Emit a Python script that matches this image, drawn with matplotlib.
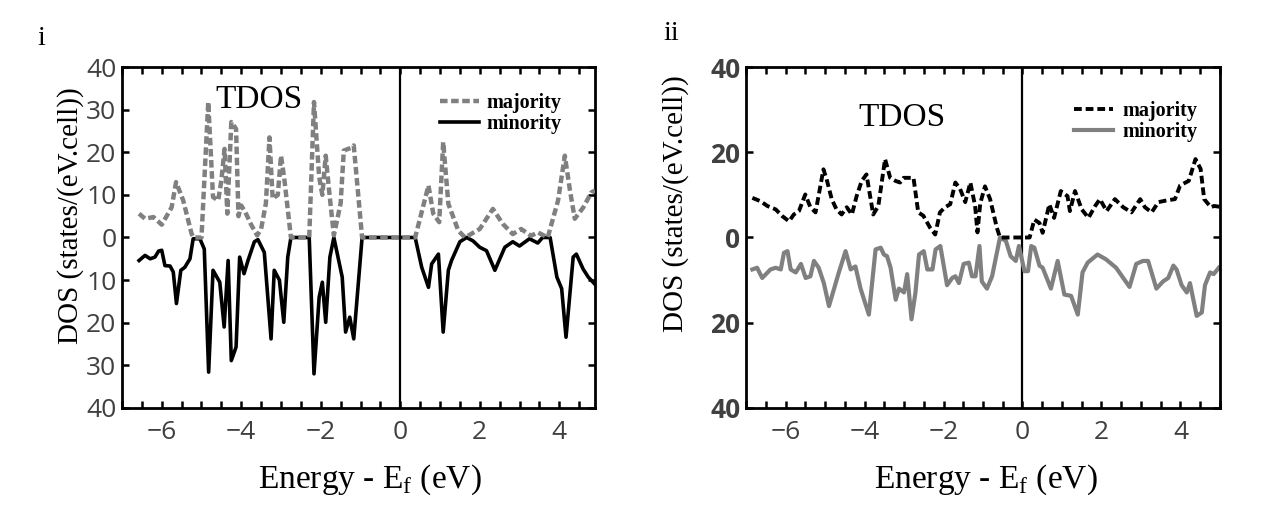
"""Total density of states, majority/minority spin, for two structures."""

import matplotlib
matplotlib.use("Agg")
import matplotlib.pyplot as plt
from matplotlib.ticker import FuncFormatter, MultipleLocator

SERIF = "Liberation Serif"
SANS = ["Open Sans", "DejaVu Sans"]
GRAY = "#808080"
TICK_INK = "#404040"

plt.rcParams["mathtext.fontset"] = "custom"
plt.rcParams["mathtext.rm"] = SERIF

# panel i
left_maj_e = [-6.57, -6.42, -6.21, -6.0, -5.75, -5.64, -5.46, -5.25, -5.2, -5.0, -4.83, -4.71,
              -4.58, -4.5, -4.42, -4.35, -4.25, -4.13, -4.07, -4.0, -3.9, -3.75, -3.6, -3.5,
              -3.38, -3.29, -3.21, -3.08, -3.0, -2.92, -2.75, -2.29, -2.17, -2.04, -1.96,
              -1.875, -1.79, -1.67, -1.5, -1.42, -1.25, -1.17, -0.96, 0.375, 0.71, 0.83, 0.98,
              1.08, 1.21, 1.46, 1.63, 2.0, 2.33, 2.58, 2.83, 3.04, 3.29, 3.46, 3.71, 3.97,
              4.14, 4.27, 4.39, 4.6, 4.81, 4.9]
left_maj_v = [5.6, 4.4, 4.8, 3.0, 7.1, 13.0, 8.7, 0.9, 0.0, 0.0, 31.8, 9.5,
              8.7, 13.4, 20.8, 5.6, 27.1, 25.5, 5.0, 7.5, 6.0, 3.0, 0.5, 2.0,
              8.0, 23.5, 9.1, 10.0, 19.2, 14.0, 0.0, 0.0, 31.8, 14.2, 10.0,
              19.2, 11.0, 0.5, 8.0, 20.4, 21.0, 21.6, 0.0, 0.0, 12.2, 5.6, 3.6,
              22.4, 7.9, 1.6, 0.0, 2.0, 6.7, 3.2, 0.8, 2.0, 0.4, 1.2, 0.0, 8.7,
              19.2, 11.0, 4.4, 7.0, 10.6, 11.0]
left_min_e = [-6.57, -6.42, -6.29, -6.17, -6.08, -6.0, -5.92, -5.79, -5.71, -5.63, -5.52, -5.42,
              -5.29, -5.21, -5.04, -4.93, -4.82, -4.71, -4.54, -4.43, -4.33, -4.25, -4.13,
              -4.04, -3.93, -3.83, -3.67, -3.58, -3.42, -3.25, -3.17, -3.04, -2.93, -2.83,
              -2.75, -2.29, -2.17, -2.04, -1.96, -1.875, -1.77, -1.67, -1.46, -1.375, -1.27,
              -1.17, -0.96, 0.375, 0.54, 0.71, 0.79, 0.96, 1.08, 1.21, 1.29, 1.5, 1.67, 1.83,
              2.0, 2.17, 2.38, 2.63, 2.83, 3.0, 3.25, 3.46, 3.58, 3.77, 3.94, 4.06, 4.17,
              4.35, 4.43, 4.6, 4.73, 4.9]
left_min_v = [5.4, 4.2, 5.0, 4.6, 3.2, 3.0, 6.6, 6.7, 8.1, 15.5, 7.7, 7.0,
              5.0, 0.3, 0.3, 2.7, 31.6, 7.7, 10.5, 21.0, 5.4, 28.9, 25.7,
              4.6, 8.5, 5.4, 1.0, 0.5, 3.5, 23.8, 7.7, 10.0, 19.9, 4.6,
              0.0, 0.0, 32.0, 14.0, 10.5, 19.9, 4.6, 0.0, 9.3, 22.2, 18.7,
              23.8, 0.0, 0.0, 7.0, 11.7, 6.2, 3.9, 22.2, 7.7, 5.4, 1.0, 0.0, 0.8,
              2.3, 3.1, 7.7, 2.3, 1.0, 2.0, 0.3, 1.3, 0.0, 0.0, 9.3, 12.0, 23.4,
              4.6, 3.9, 7.4, 9.3, 11.0]

# panel ii
right_maj_e = [-6.84, -6.63, -6.46, -6.25, -6.08, -5.91, -5.79, -5.66, -5.5, -5.37, -5.24, -5.04,
               -4.96, -4.83, -4.71, -4.58, -4.45, -4.32, -4.2, -4.07, -3.95, -3.78, -3.65,
               -3.48, -3.35, -3.22, -3.1, -3.01, -2.89, -2.76, -2.64, -2.51, -2.34, -2.21,
               -2.09, -1.96, -1.83, -1.7, -1.58, -1.45, -1.32, -1.2, -1.14, -1.07, -0.95,
               -0.82, -0.65, -0.57, 0.18, 0.3, 0.43, 0.51, 0.68, 0.8, 0.97, 1.14, 1.2, 1.33,
               1.5, 1.67, 1.84, 1.96, 2.13, 2.34, 2.55, 2.76, 2.98, 3.1, 3.27, 3.44, 3.65,
               3.86, 3.99, 4.21, 4.38, 4.51, 4.6, 4.77, 4.85, 5.0]
right_maj_v = [9.3, 8.5, 7.4, 6.6, 5.0, 3.8, 5.4, 6.2, 10.1, 7.1, 5.9, 16.0,
               13.7, 9.0, 6.6, 5.4, 7.1, 5.4, 9.7, 13.3, 14.8, 5.4, 7.4,
               18.4, 14.0, 13.3, 12.9, 14.0, 14.0, 14.0, 5.9, 5.1, 2.3, 0.7,
               5.9, 7.1, 7.8, 12.9, 11.4, 8.3, 12.9, 7.4, 1.2, 8.0, 12.0,
               9.0, 2.3, 0.0, 0.0, 4.2, 3.4, 1.1, 7.8, 4.6, 10.9, 9.7, 6.2, 10.9,
               6.6, 4.6, 7.4, 9.0, 6.2, 9.0, 7.1, 5.9, 9.0, 7.1, 5.9, 8.3, 8.7,
               9.0, 12.2, 13.3, 18.4, 16.1, 9.0, 7.1, 7.4, 7.2]
right_min_e = [-6.84, -6.72, -6.59, -6.38, -6.25, -6.12, -6.04, -5.95, -5.87, -5.74, -5.61, -5.49,
               -5.37, -5.28, -5.16, -5.03, -4.9, -4.77, -4.65, -4.48, -4.35, -4.23, -4.1,
               -3.89, -3.72, -3.59, -3.51, -3.43, -3.34, -3.21, -3.13, -3.0, -2.92, -2.81,
               -2.71, -2.62, -2.5, -2.41, -2.28, -2.2, -2.08, -1.91, -1.78, -1.7, -1.61,
               -1.49, -1.36, -1.28, -1.19, -1.09, -1.03, -0.9, -0.77, -0.57, -0.42, -0.3,
               -0.17, -0.09, 0.05, 0.14, 0.22, 0.3, 0.43, 0.51, 0.72, 0.89, 1.06, 1.23, 1.4,
               1.52, 1.65, 1.9, 2.11, 2.37, 2.71, 2.88, 3.05, 3.18, 3.39, 3.56, 3.69, 3.82,
               3.9, 4.03, 4.16, 4.24, 4.41, 4.54, 4.62, 4.75, 4.84, 4.97]
right_min_v = [7.5, 7.1, 9.5, 7.5, 7.1, 7.5, 3.6, 3.2, 7.5, 8.2, 6.2, 9.5,
               9.1, 5.5, 7.1, 10.7, 16.1, 12.0, 8.2, 3.2, 7.5, 6.8, 12.0,
               18.1, 2.8, 2.4, 4.0, 4.4, 7.1, 14.6, 12.0, 12.9, 8.6, 19.2,
               12.9, 4.0, 3.2, 7.5, 7.5, 2.8, 2.0, 11.2, 9.5, 9.1, 10.7,
               6.2, 5.9, 9.1, 9.1, 2.0, 10.3, 12.0, 9.1, 0.0, 0.8, 4.4,
               5.5, 2.0, 7.9, 7.9, 2.0, 2.4, 6.6, 7.1, 12.0, 5.5, 13.4, 13.7, 18.1,
               8.2, 5.9, 4.0, 5.1, 7.1, 11.6, 6.2, 5.5, 5.5, 12.0, 10.3, 9.5, 6.6,
               7.5, 11.2, 12.9, 10.7, 18.4, 17.6, 11.2, 8.2, 8.6, 7.1]

y_ticks_left = 10
y_ticks_right = 20


def style_axis(ax, xmax, ystep, bold_y):
    ax.set_xlim(-7, xmax)
    ax.set_ylim(-40, 40)
    ax.axvline(0, color="black", linewidth=1.6, zorder=1)
    ax.xaxis.set_major_locator(MultipleLocator(2))
    ax.xaxis.set_minor_locator(MultipleLocator(0.5))
    ax.yaxis.set_major_locator(MultipleLocator(ystep))
    ax.yaxis.set_major_formatter(FuncFormatter(lambda v, _: f"{abs(v):.0f}"))
    ax.tick_params(which="both", direction="in", top=True, right=True,
                   length=5, width=1.8, color="black")
    ax.tick_params(axis="x", which="major", labelsize=19, labelcolor=TICK_INK, pad=9)
    ax.tick_params(axis="y", labelsize=19, labelcolor=TICK_INK, pad=4)
    for lab in ax.get_xticklabels():
        lab.set_family(SANS)
    for lab in ax.get_yticklabels():
        lab.set_family(SANS)
        if bold_y:
            lab.set_fontweight("bold")
    for spine in ax.spines.values():
        spine.set_linewidth(2.0)
    ax.set_xlabel(r"Energy - E$_\mathregular{f}$ (eV)", family=SERIF, fontsize=24)
    ax.set_ylabel("DOS (states/(eV.cell))", family=SERIF, fontsize=21)


fig = plt.figure(figsize=(12.72, 5.08), dpi=100, facecolor="white")
ax_i = fig.add_axes([0.0959, 0.197, 0.3719, 0.671])
ax_ii = fig.add_axes([0.5865, 0.197, 0.3726, 0.671])

legend_style = dict(loc="upper left", frameon=False, borderpad=0, borderaxespad=0,
                    handlelength=1.95, labelspacing=0.05,
                    prop={"family": SERIF, "weight": "bold", "size": 14.5})

# panel i: majority dashed gray, minority solid black (drawn below the axis)
ax_i.plot(left_min_e, [-v for v in left_min_v], color="black", linewidth=2.6,
          label="minority", zorder=2)
ax_i.plot(left_maj_e, left_maj_v, color=GRAY, linewidth=3.2, dashes=(1.7, 0.8),
          label="majority", zorder=3)
style_axis(ax_i, 4.9, y_ticks_left, bold_y=False)
ax_i.xaxis.set_label_coords(0.524, -0.16)
ax_i.yaxis.set_label_coords(-0.08, 0.565)
ax_i.text(0.29, 0.905, "TDOS", transform=ax_i.transAxes, ha="center", va="center",
          family=SERIF, fontsize=24)
handles, labels = ax_i.get_legend_handles_labels()
ax_i.legend(handles[::-1], labels[::-1], bbox_to_anchor=(0.672, 0.925),
            handletextpad=0.35, **legend_style)

# panel ii: majority dashed black, minority solid gray
ax_ii.plot(right_min_e, [-v for v in right_min_v], color=GRAY, linewidth=3.0,
           label="minority", zorder=2)
ax_ii.plot(right_maj_e, right_maj_v, color="black", linewidth=2.8, dashes=(2.0, 1.0),
           label="majority", zorder=3)
style_axis(ax_ii, 5.0, y_ticks_right, bold_y=True)
ax_ii.xaxis.set_label_coords(0.506, -0.16)
ax_ii.yaxis.set_label_coords(-0.12, 0.6)
ax_ii.text(0.33, 0.85, "TDOS", transform=ax_ii.transAxes, ha="center", va="center",
           family=SERIF, fontsize=24)
handles, labels = ax_ii.get_legend_handles_labels()
ax_ii.legend(handles[::-1], labels[::-1], bbox_to_anchor=(0.692, 0.9),
             handletextpad=0.45, **legend_style)

fig.text(0.0325, 0.925, "i", family=SERIF, fontsize=20, ha="center", va="center")
fig.text(0.5275, 0.935, "ii", family=SERIF, fontsize=20, ha="center", va="center")

fig.savefig("out.png", dpi=100, facecolor="white")
